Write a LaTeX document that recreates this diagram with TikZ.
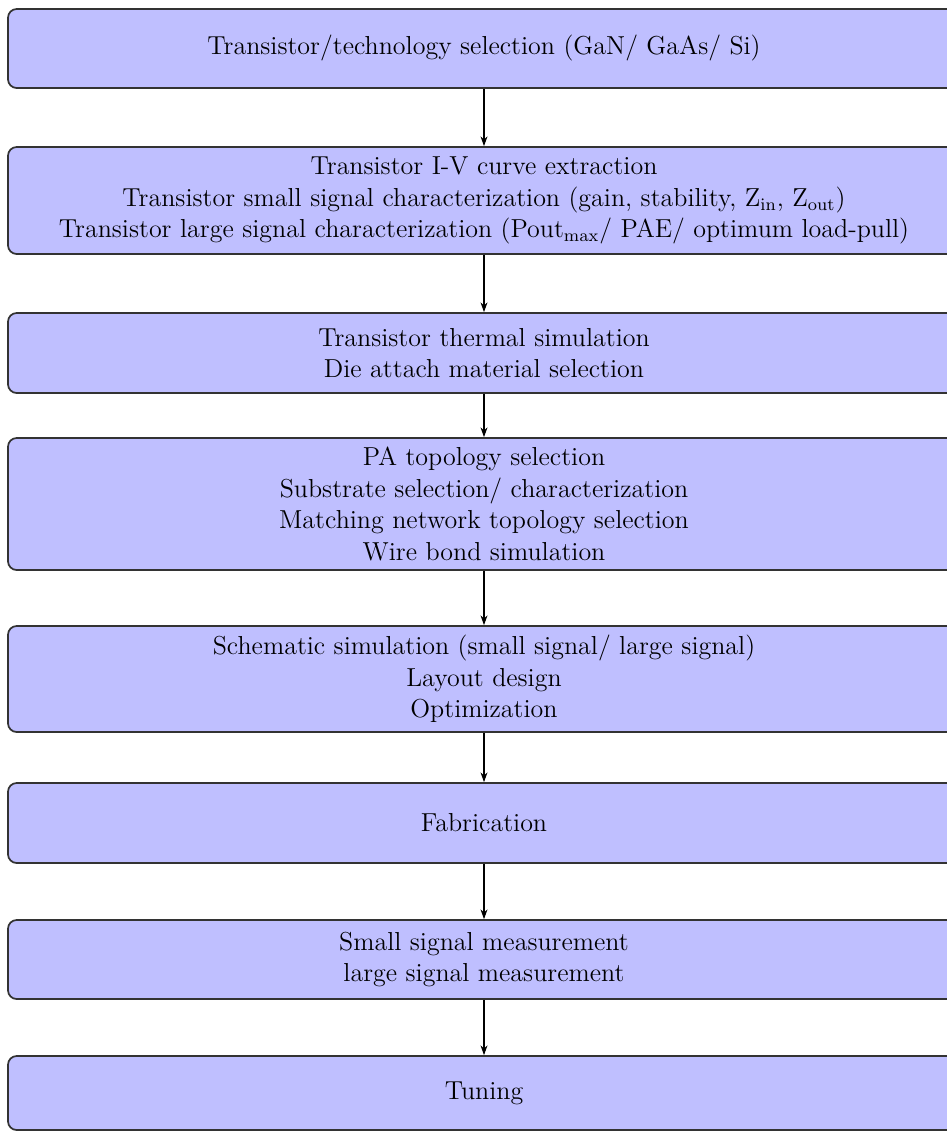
\documentclass[tikz,border=0pt]{standalone}
\usetikzlibrary{arrows.meta}
\begin{document}
\begin{tikzpicture}[x=0.4615pt,y=-0.4615pt,
  stagebox/.style={draw=black!80, line width=0.8pt, fill=blue!25, rounded corners=4pt,
    align=center, inner sep=0pt, font=\fontsize{12}{14.6}\selectfont,
    minimum width=952*0.4615pt, minimum height=#1*0.4615pt},
  flowarrow/.style={-{Stealth[length=4.5pt,width=3.2pt]}, line width=0.5pt}]
\useasboundingbox (0,0) rectangle (947,1132);
\node[stagebox=79] (b1) at (484,48.5) {Transistor/technology selection (GaN/ GaAs/ Si)};
\node[stagebox=107] (b2) at (484,200.5) {Transistor I-V curve extraction\\
  Transistor small signal characterization (gain, stability, Z$_\mathrm{in}$, Z$_\mathrm{out}$)\\
  Transistor large signal characterization (Pout$_\mathrm{max}$/ PAE/ optimum load-pull)};
\node[stagebox=80] (b3) at (484,353) {Transistor thermal simulation\\ Die attach material selection};
\node[stagebox=132] (b4) at (484,504) {PA topology selection\\ Substrate selection/ characterization\\
  Matching network topology selection\\ Wire bond simulation};
\node[stagebox=106] (b5) at (484,679) {Schematic simulation (small signal/ large signal)\\ Layout design\\ Optimization};
\node[stagebox=80] (b6) at (484,823) {Fabrication};
\node[stagebox=79] (b7) at (484,959.5) {Small signal measurement\\ large signal measurement};
\node[stagebox=74] (b8) at (484,1093) {Tuning};
\foreach \a/\b in {b1/b2,b2/b3,b3/b4,b4/b5,b5/b6,b6/b7,b7/b8}
  \draw[flowarrow] (\a) -- (\b);
\end{tikzpicture}
\end{document}
